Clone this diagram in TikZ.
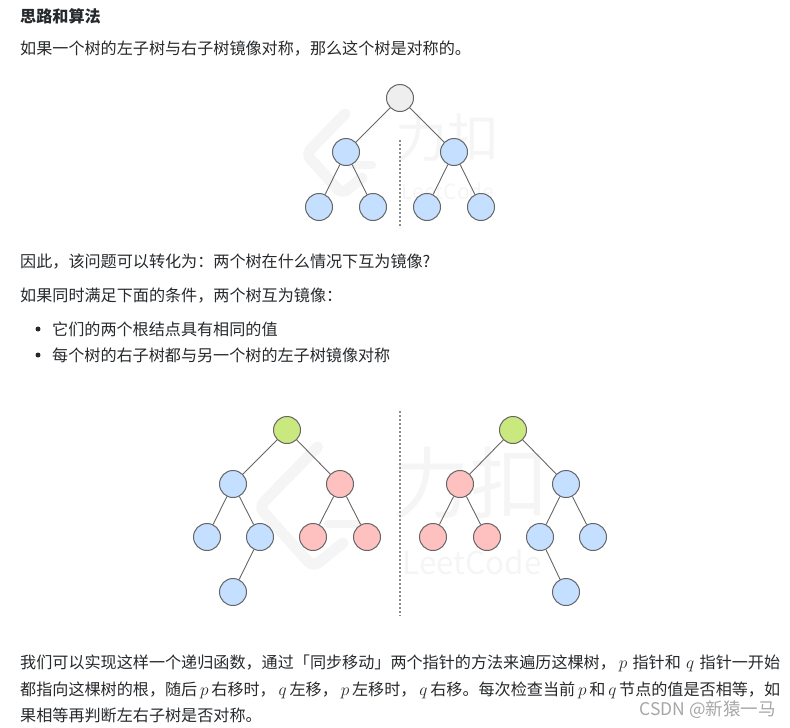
\documentclass[tikz,border=0pt]{standalone}
\usepackage{fontspec}
\setmainfont{Noto Sans CJK SC}
\usepackage{tikz}
\usetikzlibrary{positioning}
\definecolor{bodytext}{HTML}{26292C}
\definecolor{markcolor}{HTML}{F5F5F5}
\definecolor{edgecolor}{HTML}{666666}
\definecolor{nodegray}{HTML}{EEEEEE}
\definecolor{nodeblue}{HTML}{C4DFFF}
\definecolor{nodered}{HTML}{FFC0C0}
\definecolor{nodegreen}{HTML}{C9E97F}
\newcommand{\linetext}[1]{\makebox[760pt][s]{#1}}

\begin{document}
\begin{tikzpicture}[
    x=1pt, y=-1pt,
    on grid,
    textline/.style={anchor=base west, inner sep=0pt, text=bodytext, font=\fontsize{16.1}{18}\selectfont},
    treenode/.style={circle, draw=edgecolor, line width=1pt, minimum size=27pt, inner sep=0pt},
    graynode/.style={treenode, fill=nodegray},
    bluenode/.style={treenode, fill=nodeblue},
    rednode/.style={treenode, fill=nodered},
    greennode/.style={treenode, fill=nodegreen},
    edge/.style={draw=edgecolor, line width=0.9pt},
    mirror/.style={draw=black!45, line width=2pt, dash pattern=on 2pt off 2pt},
    watermark/.pic={
      \draw[markcolor, line width=11pt, rounded corners=7pt, line cap=round]
        (-55,-42) -- (-94,-2) -- (-58,38) -- (-38,22);
      \draw[markcolor, line width=8pt, line cap=round] (-48,9) -- (-28,9);
      \node[markcolor, inner sep=0pt, transform shape, font=\fontsize{52}{52}\selectfont] (-hanzi) at (47,-18) {力扣};
      \node[markcolor, inner sep=0pt, transform shape, font=\fontsize{21}{21}\selectfont] (-latin) at (48,35) {LeetCode};
    }
  ]
    \useasboundingbox (0,0) rectangle (790,728);

    \pic (markone) at (400,156) {watermark};
    \pic[scale=1.5] (marktwo) at (400,510) {watermark};

    % text above the first tree
    \node[textline, font=\fontsize{16.1}{18}\selectfont\bfseries] (title) at (20,22) {思路和算法};
    \node[textline] (intro) at (20,54) {如果一个树的左子树与右子树镜像对称，那么这个树是对称的。};

    % first tree
    \node[graynode] (root) at (400,98) {};
    \node[bluenode, below left=54pt and 54pt of root] (l) {};
    \node[bluenode, below right=54pt and 54pt of root] (r) {};
    \node[bluenode, below left=55pt and 27pt of l] (ll) {};
    \node[bluenode, below right=55pt and 27pt of l] (lr) {};
    \node[bluenode, below left=55pt and 27pt of r] (rl) {};
    \node[bluenode, below right=55pt and 27pt of r] (rr) {};
    \coordinate (axistop) at (400,140);
    \coordinate (axisend) at (400,228);

    \draw[edge] (root) -- (l);
    \draw[edge] (root) -- (r);
    \draw[edge] (l) -- (ll);
    \draw[edge] (l) -- (lr);
    \draw[edge] (r) -- (rl);
    \draw[edge] (r) -- (rr);
    \draw[mirror] (axistop) -- (axisend);

    % text between the trees
    \node[textline] (question) at (20,267) {因此，该问题可以转化为：两个树在什么情况下互为镜像?};
    \node[textline] (condition) at (20,301) {如果同时满足下面的条件，两个树互为镜像：};
    \node[circle, fill=bodytext, inner sep=0pt, minimum size=5pt] (bulletone) at (38,329) {};
    \node[textline] (itemone) at (52,335) {它们的两个根结点具有相同的值};
    \node[circle, fill=bodytext, inner sep=0pt, minimum size=5pt] (bullettwo) at (38,355) {};
    \node[textline] (itemtwo) at (52,361) {每个树的右子树都与另一个树的左子树镜像对称};

    % left tree of the pair
    \node[greennode] (p) at (287,430) {};
    \node[bluenode, below left=54pt and 54pt of p] (pl) {};
    \node[rednode, below right=54pt and 53pt of p] (pr) {};
    \node[bluenode, below left=53pt and 26pt of pl] (pll) {};
    \node[bluenode, below right=53pt and 27pt of pl] (plr) {};
    \node[rednode, below left=53pt and 27pt of pr] (prl) {};
    \node[rednode, below right=53pt and 27pt of pr] (prr) {};
    \node[bluenode, below left=55pt and 27pt of plr] (plrl) {};

    \draw[edge] (p) -- (pl);
    \draw[edge] (p) -- (pr);
    \draw[edge] (pl) -- (pll);
    \draw[edge] (pl) -- (plr);
    \draw[edge] (pr) -- (prl);
    \draw[edge] (pr) -- (prr);
    \draw[edge] (plr) -- (plrl);

    % right tree of the pair
    \node[greennode] (q) at (513,430) {};
    \node[rednode, below left=54pt and 53pt of q] (ql) {};
    \node[bluenode, below right=54pt and 53pt of q] (qr) {};
    \node[rednode, below left=53pt and 27pt of ql] (qll) {};
    \node[rednode, below right=53pt and 27pt of ql] (qlr) {};
    \node[bluenode, below left=53pt and 26pt of qr] (qrl) {};
    \node[bluenode, below right=53pt and 27pt of qr] (qrr) {};
    \node[bluenode, below right=55pt and 26pt of qrl] (qrlr) {};

    \draw[edge] (q) -- (ql);
    \draw[edge] (q) -- (qr);
    \draw[edge] (ql) -- (qll);
    \draw[edge] (ql) -- (qlr);
    \draw[edge] (qr) -- (qrl);
    \draw[edge] (qr) -- (qrr);
    \draw[edge] (qrl) -- (qrlr);

    \coordinate (pairtop) at (400,411);
    \coordinate (pairend) at (400,616);
    \draw[mirror] (pairtop) -- (pairend);

    % closing paragraph
    \node[textline] (lineone) at (20,668) {\linetext{我们可以实现这样一个递归函数，通过「同步移动」两个指针的方法来遍历这棵树，$\,p$ 指针和 $q$ 指针一开始}};
    \node[textline] (linetwo) at (20,695) {\linetext{都指向这棵树的根，随后 $p$ 右移时，$\,q$ 左移，$\,p$ 左移时，$\,q$ 右移。每次检查当前 $p$ 和 $q$ 节点的值是否相等，如}};
    \node[textline] (linethree) at (20,721) {果相等再判断左右子树是否对称。};
    \node[anchor=base east, inner sep=0pt, text=black!35, font=\fontsize{17.5}{18}\selectfont] (csdn) at (776,715) {CSDN @新猿一马};
  \end{tikzpicture}
\end{document}
